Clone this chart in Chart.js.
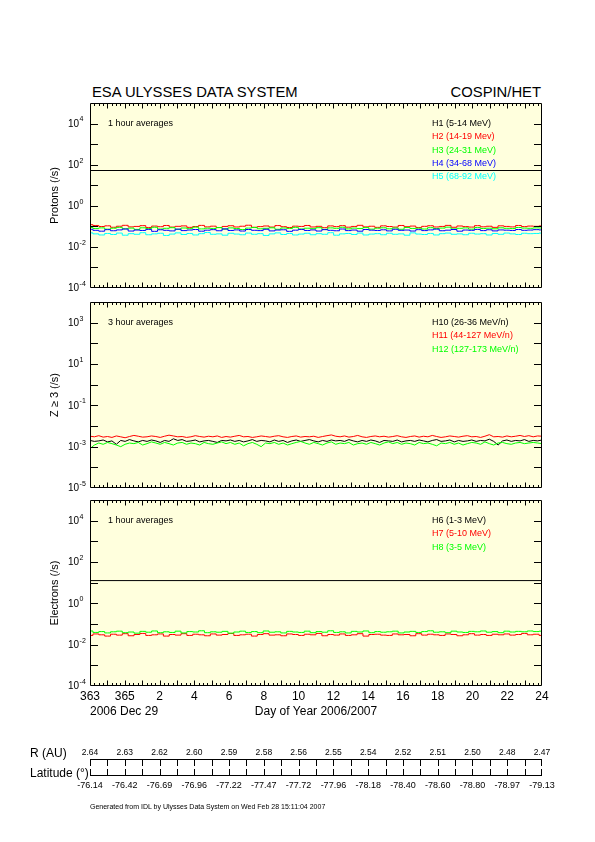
<!DOCTYPE html>
<html>
<head>
<meta charset="utf-8">
<script src="https://cdn.jsdelivr.net/npm/chart.js@4.4.0/dist/chart.umd.min.js"></script>
<style>
  body { margin: 0; width: 595px; height: 842px; position: relative; background: #fff; overflow: hidden; color: #000;
         font-family: "Liberation Sans", Arial, sans-serif; }
  canvas { position: absolute; left: 0; top: 0; }
  .t { position: absolute; white-space: nowrap; transform: translateY(-50%); color: #000; }
</style>
</head>
<body>
<div class="t" style="left:92px; top:92px; font-size:14.8px">ESA ULYSSES DATA SYSTEM</div>
<div class="t" style="right:54px; top:92px; font-size:14.8px">COSPIN/HET</div>
<canvas id="c0" width="595" height="842"></canvas>
<canvas id="c1" width="595" height="842"></canvas>
<canvas id="c2" width="595" height="842"></canvas>
<canvas id="c3" width="595" height="842"></canvas>
<div class="t" style="left:90px; top:806px; font-size:7px">Generated from IDL by Ulysses Data System on Wed Feb 28 15:11:04 2007</div>
<script>
// days since 2006 day 363.0
const DAYS = 26;
const dayLabels = ['363', '365', '2', '4', '6', '8', '10', '12', '14', '16', '18', '20', '22', '24'];
const rLabels = ['2.64', '2.63', '2.62', '2.60', '2.59', '2.58', '2.56', '2.55', '2.54', '2.52', '2.51', '2.50', '2.48', '2.47'];
const latLabels = ['-76.14', '-76.42', '-76.69', '-76.96', '-77.22', '-77.47', '-77.72', '-77.96', '-78.18', '-78.40', '-78.60', '-78.80', '-78.97', '-79.13'];

// protons, 1 hour averages (/s)
const h1 = [52, 52];
const h2 = [.120,.110,.098,.106,.090,.101,.112,.094,.099,.108,.088,.103,.096,.110,.092,.100,.105,.089,.098,.111,.094,.102,.087,.099,.107,.093,.101,.113,.090,.097,.104,.092,.109,.096,.088,.102,.099,.110,.093,.100,.086,.105,.097,.108,.091,.099,.112,.094,.101,.089,.106,.098,.092,.110,.096,.103,.088,.100,.107,.093,.099,.111,.090,.104,.097,.092,.108,.095,.101,.089,.106,.099,.094,.110,.097,.103,.100,.105];
const h3 = [.088,.079,.084,.073,.081,.089,.076,.082,.071,.085,.078,.090,.074,.080,.086,.072,.083,.077,.091,.075,.081,.079,.087,.073,.084,.078,.070,.082,.088,.076,.080,.085,.072,.083,.079,.089,.074,.081,.077,.086,.071,.084,.080,.090,.075,.082,.078,.087,.073,.081,.085,.076,.083,.072,.088,.079,.081,.074,.086,.078,.082,.091,.075,.080,.084,.073,.087,.079,.081,.076,.085,.080,.078,.088,.082,.080,.084,.083];
const h4 = [.072,.064,.058,.069,.061,.067,.074,.059,.066,.063,.071,.057,.068,.064,.060,.073,.062,.066,.070,.058,.065,.069,.061,.075,.063,.067,.059,.070,.064,.062,.072,.060,.066,.068,.057,.065,.071,.063,.067,.059,.069,.064,.061,.074,.062,.066,.058,.070,.065,.063,.068,.060,.072,.064,.066,.059,.069,.062,.067,.073,.061,.065,.070,.058,.066,.064,.071,.062,.068,.060,.067,.065,.063,.070,.064,.066,.069,.067];
const h5 = [.048,.043,.038,.045,.040,.047,.037,.044,.041,.049,.039,.043,.046,.036,.042,.048,.040,.045,.038,.044,.050,.041,.043,.037,.046,.042,.039,.047,.041,.044,.036,.043,.048,.040,.045,.038,.042,.046,.039,.044,.041,.049,.037,.043,.045,.040,.047,.038,.042,.044,.039,.046,.041,.043,.037,.048,.042,.040,.045,.038,.044,.047,.041,.043,.039,.046,.042,.044,.038,.045,.041,.047,.043,.040,.046,.044,.045,.047];

// Z >= 3, 3 hour averages (/s)
const h10 = [.0020,.0018,.0019,.0021,.0017,.0019,.0013,.0020,.0018,.0022,.0019,.0017,.0020,.0018,.0021,.0019,.0016,.0020,.0018,.0024,.0020,.0022,.0018,.0019,.0021,.0017,.0019,.0020,.0018,.0016,.0020,.0019,.0021,.0018,.0020,.0017,.0019,.0022,.0018,.0020,.0019,.0017,.0021,.0018,.0020,.0016,.0019,.0021,.0018,.0020,.0022,.0019,.0017,.0020,.0018,.0021,.0019,.0020,.0018,.0022,.0019,.0017,.0020,.0018,.0021,.0019,.0016,.0020,.0019,.0018,.0021,.0017,.0019,.0020,.0018,.0021,.0019,.0017,.0020,.0022,.0018,.0019,.0021,.0017,.0020,.0018,.0019,.0021,.0018,.0020,.0019,.0023,.0018,.0012,.0019,.0021,.0018,.0020,.0019,.0022,.0018,.0020,.0019,.0021];
const h11 = [.0032,.0030,.0034,.0029,.0031,.0028,.0033,.0030,.0027,.0031,.0035,.0032,.0029,.0030,.0033,.0031,.0028,.0032,.0036,.0033,.0030,.0031,.0028,.0030,.0034,.0031,.0029,.0032,.0030,.0033,.0028,.0031,.0029,.0032,.0035,.0030,.0031,.0028,.0030,.0033,.0031,.0029,.0032,.0034,.0030,.0028,.0031,.0033,.0029,.0031,.0030,.0032,.0028,.0031,.0034,.0037,.0032,.0030,.0033,.0029,.0031,.0035,.0030,.0028,.0031,.0033,.0030,.0032,.0029,.0031,.0034,.0030,.0028,.0031,.0033,.0029,.0032,.0030,.0035,.0031,.0028,.0030,.0033,.0031,.0029,.0032,.0034,.0030,.0031,.0028,.0032,.0038,.0030,.0031,.0029,.0033,.0030,.0032,.0035,.0031,.0034,.0030,.0033,.0032];
const h12 = [.0008,.0012,.0015,.0013,.0016,.0014,.0012,.0010,.0013,.0015,.0014,.0016,.0012,.0014,.0017,.0015,.0013,.0016,.0014,.0012,.0015,.0016,.0013,.0015,.0014,.0012,.0016,.0014,.0013,.0015,.0017,.0014,.0016,.0013,.0015,.0011,.0014,.0016,.0013,.0010,.0015,.0014,.0016,.0013,.0015,.0012,.0014,.0016,.0018,.0015,.0013,.0016,.0014,.0012,.0015,.0017,.0013,.0015,.0014,.0016,.0012,.0014,.0015,.0013,.0016,.0014,.0012,.0015,.0017,.0014,.0016,.0013,.0015,.0014,.0012,.0016,.0014,.0015,.0013,.0011,.0015,.0014,.0016,.0013,.0015,.0012,.0014,.0016,.0015,.0013,.0017,.0014,.0012,.0015,.0016,.0014,.0013,.0015,.0016,.0014,.0015,.0016,.0015,.0014];

// electrons, 1 hour averages (/s)
const h6 = [12.6, 12.6];
const h7 = [.028,.033,.030,.026,.032,.029,.034,.027,.031,.035,.028,.030,.033,.026,.031,.029,.034,.028,.032,.030,.027,.033,.029,.031,.035,.028,.030,.032,.026,.031,.034,.029,.030,.027,.033,.031,.028,.032,.030,.035,.027,.031,.029,.033,.028,.030,.034,.026,.031,.032,.029,.028,.033,.030,.031,.027,.034,.029,.032,.030,.028,.033,.031,.027,.030,.034,.029,.031,.028,.032,.030,.033,.029,.031,.035,.030,.032,.028];
const h8 = [.046,.039,.043,.037,.042,.045,.038,.041,.036,.044,.040,.046,.038,.042,.039,.045,.037,.043,.041,.047,.038,.042,.040,.044,.036,.041,.045,.039,.043,.038,.046,.040,.042,.037,.044,.041,.039,.045,.038,.043,.040,.047,.039,.042,.037,.044,.041,.046,.038,.043,.040,.042,.045,.037,.041,.044,.039,.043,.047,.040,.042,.038,.045,.041,.039,.044,.042,.046,.040,.043,.038,.045,.041,.044,.042,.046,.043,.045];

const W = 595, H = 842, LEFT = 90, RIGHT = 542;
const FONT = '"Liberation Sans", Arial, sans-serif';

const panels = [
  { top: 103, bottom: 288, min: -4, max: 5, labeled: [-4, -2, 0, 2, 4], title: 'Protons (/s)', note: '1 hour averages', stepped: true,
    series: [['H1 (5-14 MeV)', '#000000', h1], ['H2 (14-19 Mev)', '#ff0000', h2], ['H3 (24-31 MeV)', '#00ff00', h3],
             ['H4 (34-68 MeV)', '#0000ff', h4], ['H5 (68-92 MeV)', '#00ffff', h5]] },
  { top: 302, bottom: 488, min: -5, max: 4, labeled: [-5, -3, -1, 1, 3], title: 'Z \u2265 3 (/s)', note: '3 hour averages', stepped: false,
    series: [['H10 (26-36 MeV/n)', '#000000', h10], ['H11 (44-127 MeV/n)', '#ff0000', h11], ['H12 (127-173 MeV/n)', '#00ff00', h12]] },
  { top: 500, bottom: 686, min: -4, max: 5, labeled: [-4, -2, 0, 2, 4], title: 'Electrons (/s)', note: '1 hour averages', stepped: true,
    series: [['H6 (1-3 MeV)', '#000000', h6], ['H7 (5-10 MeV)', '#ff0000', h7], ['H8 (3-5 MeV)', '#00ff00', h8]] }
];

const pts = vals => vals.map((v, i) => ({ x: i * DAYS / (vals.length - 1), y: v }));
const crisp = v => Math.round(v) + 0.5;

function panelPlugin(p, withXLabels) {
  return {
    id: 'panel',
    beforeDraw(chart) {
      const a = chart.chartArea, ctx = chart.ctx;
      ctx.save();
      ctx.fillStyle = '#ffffdd';
      ctx.fillRect(a.left, a.top, a.right - a.left, a.bottom - a.top);
      ctx.restore();
    },
    afterDraw(chart) {
      const { ctx, chartArea: a } = chart;
      const x = chart.scales.x, y = chart.scales.y;
      ctx.save();
      ctx.strokeStyle = '#000';
      ctx.lineWidth = 1;
      ctx.beginPath();
      ctx.rect(crisp(a.left), crisp(a.top), Math.round(a.right - a.left) - 1, Math.round(a.bottom - a.top) - 1);
      for (let e = p.min + 1; e < p.max; e++) {
        const py = crisp(y.getPixelForValue(10 ** e));
        ctx.moveTo(a.left, py); ctx.lineTo(a.left + 8, py);
        ctx.moveTo(a.right - 8, py); ctx.lineTo(a.right, py);
      }
      for (let k = 1; k < DAYS * 4; k++) {
        const px = crisp(x.getPixelForValue(k / 4));
        const len = k % 4 === 0 ? 5.5 : 3;
        ctx.moveTo(px, a.top); ctx.lineTo(px, a.top + len);
        ctx.moveTo(px, a.bottom); ctx.lineTo(px, a.bottom - len);
      }
      ctx.stroke();

      ctx.fillStyle = '#000';
      ctx.textBaseline = 'middle';
      p.labeled.forEach(e => {
        const py = y.getPixelForValue(10 ** e);
        ctx.font = '10px ' + FONT;
        ctx.textAlign = 'left';
        ctx.fillText('10', 68, py + 0.7);
        const w = ctx.measureText('10').width;
        ctx.font = '7px ' + FONT;
        ctx.fillText(String(e), 68 + w + 0.5, py - 4);
      });

      ctx.save();
      ctx.translate(55, (a.top + a.bottom) / 2);
      ctx.rotate(-Math.PI / 2);
      ctx.font = '11px ' + FONT;
      ctx.textAlign = 'center';
      ctx.fillText(p.title, 0, 0);
      ctx.restore();

      ctx.font = '9px ' + FONT;
      ctx.textAlign = 'left';
      ctx.fillText(p.note, 108, a.top + 20.5);
      p.series.forEach((s, i) => {
        ctx.fillStyle = s[1];
        ctx.fillText(s[0], 432, a.top + 20.5 + i * 13.3);
      });

      if (withXLabels) {
        ctx.fillStyle = '#000';
        ctx.font = '12px ' + FONT;
        ctx.textAlign = 'center';
        dayLabels.forEach((lab, i) => ctx.fillText(lab, x.getPixelForValue(i * 2), 697));
        ctx.fillText('Day of Year 2006/2007', 316, 711.5);
        ctx.textAlign = 'left';
        ctx.fillText('2006 Dec 29', 90, 711.5);
      }
      ctx.restore();
    }
  };
}

panels.forEach((p, k) => {
  new Chart(document.getElementById('c' + k), {
    type: 'line',
    data: {
      datasets: p.series.map((s, i) => ({
        label: s[0],
        data: pts(s[2]),
        borderColor: s[1],
        borderWidth: 1,
        pointRadius: 0,
        stepped: p.stepped ? 'middle' : false,
        tension: 0,
        order: -i
      }))
    },
    options: {
      responsive: false,
      animation: false,
      events: [],
      layout: { padding: { left: LEFT, right: W - RIGHT, top: p.top, bottom: H - p.bottom } },
      scales: {
        x: { type: 'linear', min: 0, max: DAYS, display: false },
        y: { type: 'logarithmic', min: 10 ** p.min, max: 10 ** p.max, display: false }
      },
      plugins: { legend: { display: false }, tooltip: { enabled: false } }
    },
    plugins: [panelPlugin(p, k === 2)]
  });
});

// R / latitude rulers under the panels
const rulerPlugin = {
  id: 'ruler',
  afterDraw(chart) {
    const { ctx, chartArea: a } = chart;
    const x = chart.scales.x;
    const yR = 759.5, yL = 775.5;
    ctx.save();
    ctx.strokeStyle = '#000';
    ctx.lineWidth = 1;
    ctx.beginPath();
    ctx.moveTo(a.left, yR); ctx.lineTo(a.right, yR);
    ctx.moveTo(a.left, yL); ctx.lineTo(a.right, yL);
    for (let d = 0; d <= DAYS; d++) {
      const px = Math.min(crisp(x.getPixelForValue(d)), a.right - 0.5);
      ctx.moveTo(px, yR); ctx.lineTo(px, yR + 6.5);
      ctx.moveTo(px, yL); ctx.lineTo(px, yL - 6.5);
    }
    ctx.stroke();
    ctx.fillStyle = '#000';
    ctx.textBaseline = 'middle';
    ctx.textAlign = 'left';
    ctx.font = '12px ' + FONT;
    ctx.fillText('R (AU)', 30, 754);
    ctx.fillText('Latitude (\u00b0)', 30, 774);
    ctx.textAlign = 'center';
    ctx.font = '8.5px ' + FONT;
    rLabels.forEach((lab, i) => ctx.fillText(lab, x.getPixelForValue(i * 2), 752.5));
    ctx.font = '9px ' + FONT;
    latLabels.forEach((lab, i) => ctx.fillText(lab, x.getPixelForValue(i * 2), 785.5));
    ctx.restore();
  }
};

new Chart(document.getElementById('c3'), {
  type: 'line',
  data: { datasets: [] },
  options: {
    responsive: false,
    animation: false,
    events: [],
    layout: { padding: { left: LEFT, right: W - RIGHT, top: 740, bottom: H - 800 } },
    scales: {
      x: { type: 'linear', min: 0, max: DAYS, display: false },
      y: { display: false }
    },
    plugins: { legend: { display: false }, tooltip: { enabled: false } }
  },
  plugins: [rulerPlugin]
});
</script>
</body>
</html>
